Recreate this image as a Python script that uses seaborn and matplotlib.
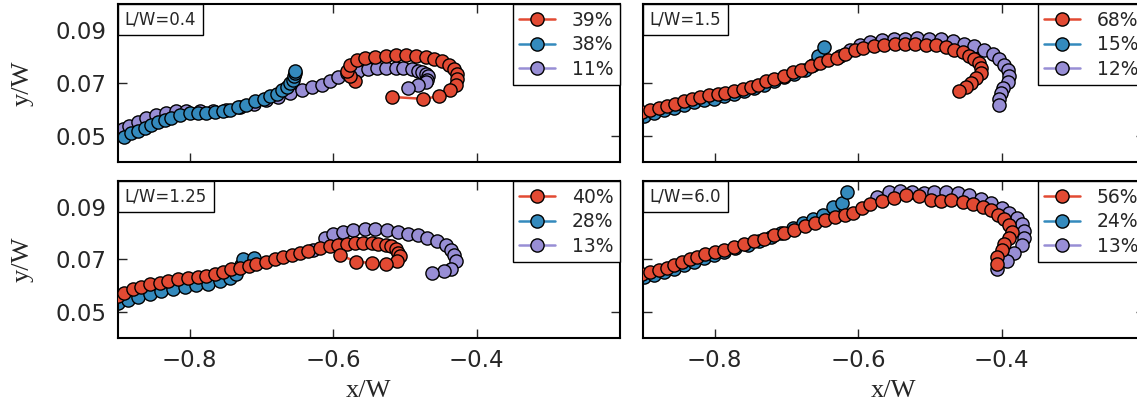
import matplotlib
matplotlib.use("Agg")
import matplotlib.pyplot as plt
import seaborn as sns
from matplotlib.offsetbox import AnchoredText

# trajectory points (x/W, y/W)

# --- L/W = 0.4 ---
lw04_red_x = [-0.569, -0.576, -0.581, -0.576, -0.567, -0.555, -0.541, -0.527, -0.513, -0.499,
              -0.485, -0.471, -0.460, -0.448, -0.439, -0.432, -0.428, -0.427, -0.429, -0.437,
              -0.453, -0.475, -0.518]
lw04_red_y = [0.0709, 0.0725, 0.0745, 0.0770, 0.0787, 0.0794, 0.0799, 0.0802, 0.0806, 0.0806,
              0.0804, 0.0799, 0.0793, 0.0783, 0.0770, 0.0753, 0.0736, 0.0715, 0.0694, 0.0672,
              0.0649, 0.0640, 0.0647]
lw04_blue_x = [-0.891, -0.882, -0.872, -0.863, -0.854, -0.844, -0.835, -0.826, -0.814, -0.800,
               -0.788, -0.777, -0.765, -0.753, -0.744, -0.732, -0.721, -0.709, -0.697, -0.688,
               -0.679, -0.672, -0.665, -0.660, -0.656, -0.654, -0.653, -0.653]
lw04_blue_y = [0.0496, 0.0509, 0.0519, 0.0530, 0.0541, 0.0551, 0.0560, 0.0568, 0.0579, 0.0585,
               0.0585, 0.0585, 0.0588, 0.0592, 0.0598, 0.0608, 0.0617, 0.0630, 0.0639, 0.0649,
               0.0659, 0.0672, 0.0685, 0.0700, 0.0713, 0.0725, 0.0738, 0.0747]
lw04_purple_x = [-0.893, -0.884, -0.872, -0.861, -0.847, -0.833, -0.819, -0.805, -0.786, -0.767,
                 -0.749, -0.730, -0.711, -0.693, -0.677, -0.660, -0.644, -0.630, -0.616, -0.604,
                 -0.593, -0.581, -0.565, -0.551, -0.539, -0.527, -0.513, -0.502, -0.490, -0.482,
                 -0.476, -0.471, -0.468, -0.469, -0.471, -0.481, -0.495]
lw04_purple_y = [0.0526, 0.0538, 0.0553, 0.0566, 0.0578, 0.0587, 0.0592, 0.0594, 0.0593, 0.0594,
                 0.0599, 0.0609, 0.0621, 0.0634, 0.0648, 0.0662, 0.0675, 0.0685, 0.0694, 0.0706,
                 0.0723, 0.0738, 0.0745, 0.0753, 0.0757, 0.0757, 0.0757, 0.0757, 0.0753, 0.0747,
                 0.0741, 0.0736, 0.0725, 0.0713, 0.0703, 0.0694, 0.0681]

# --- L/W = 1.5 ---
lw15_red_x = [-0.902, -0.890, -0.878, -0.867, -0.855, -0.843, -0.831, -0.820, -0.808, -0.796,
              -0.785, -0.773, -0.761, -0.749, -0.740, -0.728, -0.717, -0.703, -0.691, -0.679,
              -0.665, -0.653, -0.642, -0.630, -0.618, -0.604, -0.593, -0.578, -0.564, -0.548,
              -0.534, -0.520, -0.506, -0.492, -0.478, -0.466, -0.454, -0.445, -0.438, -0.431,
              -0.429, -0.429, -0.436, -0.443, -0.450, -0.459]
lw15_red_y = [0.0588, 0.0596, 0.0604, 0.0613, 0.0621, 0.0630, 0.0639, 0.0647, 0.0653, 0.0657,
              0.0662, 0.0668, 0.0677, 0.0685, 0.0694, 0.0706, 0.0717, 0.0728, 0.0741, 0.0751,
              0.0764, 0.0776, 0.0787, 0.0796, 0.0812, 0.0824, 0.0834, 0.0840, 0.0844, 0.0849,
              0.0850, 0.0850, 0.0846, 0.0843, 0.0838, 0.0827, 0.0817, 0.0804, 0.0792, 0.0776,
              0.0757, 0.0738, 0.0719, 0.0700, 0.0685, 0.0668]
lw15_blue_x = [-0.899, -0.885, -0.871, -0.857, -0.843, -0.829, -0.815, -0.801, -0.787, -0.773,
               -0.759, -0.745, -0.731, -0.717, -0.703, -0.689, -0.674, -0.663, -0.656, -0.648]
lw15_blue_y = [0.0575, 0.0585, 0.0596, 0.0606, 0.0616, 0.0626, 0.0634, 0.0641, 0.0649, 0.0658,
               0.0668, 0.0680, 0.0694, 0.0709, 0.0723, 0.0736, 0.0748, 0.0770, 0.0802, 0.0836]
lw15_purple_x = [-0.625, -0.611, -0.597, -0.583, -0.567, -0.550, -0.534, -0.518, -0.501, -0.485,
                 -0.468, -0.452, -0.438, -0.424, -0.412, -0.403, -0.396, -0.391, -0.389, -0.391,
                 -0.398, -0.401, -0.403, -0.403]
lw15_purple_y = [0.0804, 0.0827, 0.0845, 0.0857, 0.0863, 0.0866, 0.0868, 0.0872, 0.0869, 0.0866,
                 0.0859, 0.0850, 0.0840, 0.0827, 0.0812, 0.0792, 0.0770, 0.0748, 0.0725, 0.0703,
                 0.0681, 0.0662, 0.0640, 0.0617]

# --- L/W = 1.25 ---
lw125_red_x = [-0.900, -0.891, -0.879, -0.868, -0.856, -0.842, -0.830, -0.816, -0.802, -0.788,
               -0.777, -0.765, -0.753, -0.742, -0.730, -0.718, -0.707, -0.693, -0.681, -0.670,
               -0.658, -0.646, -0.635, -0.618, -0.604, -0.593, -0.581, -0.569, -0.558, -0.546,
               -0.537, -0.527, -0.520, -0.513, -0.509, -0.507, -0.511, -0.527, -0.546, -0.568,
               -0.590]
lw125_red_y = [0.0559, 0.0572, 0.0586, 0.0595, 0.0605, 0.0612, 0.0618, 0.0625, 0.0628, 0.0632,
               0.0638, 0.0645, 0.0654, 0.0662, 0.0667, 0.0674, 0.0682, 0.0691, 0.0700, 0.0708,
               0.0717, 0.0726, 0.0734, 0.0743, 0.0750, 0.0757, 0.0761, 0.0763, 0.0763, 0.0763,
               0.0761, 0.0757, 0.0750, 0.0739, 0.0726, 0.0713, 0.0695, 0.0682, 0.0687, 0.0691,
               0.0717]
lw125_blue_x = [-0.900, -0.886, -0.872, -0.856, -0.840, -0.823, -0.807, -0.791, -0.774, -0.758,
                -0.744, -0.735, -0.728, -0.726, -0.711]
lw125_blue_y = [0.0533, 0.0546, 0.0555, 0.0568, 0.0579, 0.0588, 0.0595, 0.0601, 0.0608, 0.0616,
                0.0629, 0.0645, 0.0678, 0.0700, 0.0704]
lw125_purple_x = [-0.628, -0.611, -0.600, -0.586, -0.572, -0.555, -0.541, -0.525, -0.509, -0.495,
                  -0.481, -0.469, -0.455, -0.443, -0.436, -0.431, -0.429, -0.435, -0.446, -0.462]
lw125_purple_y = [0.0737, 0.0783, 0.0796, 0.0805, 0.0812, 0.0816, 0.0818, 0.0813, 0.0805, 0.0799,
                  0.0792, 0.0783, 0.0772, 0.0757, 0.0737, 0.0717, 0.0695, 0.0664, 0.0655, 0.0647]

# --- L/W = 6.0 ---
lw60_red_x = [-0.902, -0.890, -0.878, -0.867, -0.857, -0.845, -0.834, -0.824, -0.813, -0.800,
              -0.787, -0.773, -0.759, -0.745, -0.731, -0.717, -0.703, -0.689, -0.674, -0.660,
              -0.646, -0.632, -0.618, -0.607, -0.595, -0.583, -0.567, -0.550, -0.533, -0.515,
              -0.499, -0.485, -0.471, -0.454, -0.440, -0.426, -0.414, -0.405, -0.396, -0.389,
              -0.386, -0.389, -0.396, -0.400, -0.406, -0.407]
lw60_red_y = [0.0645, 0.0651, 0.0658, 0.0668, 0.0678, 0.0691, 0.0700, 0.0711, 0.0720, 0.0730,
              0.0737, 0.0747, 0.0759, 0.0770, 0.0780, 0.0792, 0.0803, 0.0813, 0.0829, 0.0839,
              0.0851, 0.0862, 0.0871, 0.0879, 0.0895, 0.0912, 0.0925, 0.0934, 0.0945, 0.0941,
              0.0929, 0.0925, 0.0928, 0.0921, 0.0912, 0.0901, 0.0888, 0.0871, 0.0853, 0.0832,
              0.0805, 0.0783, 0.0761, 0.0737, 0.0711, 0.0682]
lw60_blue_x = [-0.899, -0.885, -0.871, -0.857, -0.843, -0.829, -0.815, -0.801, -0.787, -0.771,
               -0.754, -0.738, -0.721, -0.707, -0.691, -0.677, -0.663, -0.649, -0.635, -0.623,
               -0.616]
lw60_blue_y = [0.0634, 0.0642, 0.0651, 0.0664, 0.0678, 0.0691, 0.0704, 0.0717, 0.0730, 0.0743,
               0.0757, 0.0770, 0.0786, 0.0803, 0.0820, 0.0839, 0.0855, 0.0871, 0.0901, 0.0914,
               0.0958]
lw60_purple_x = [-0.574, -0.557, -0.541, -0.525, -0.508, -0.494, -0.478, -0.461, -0.445, -0.429,
                 -0.414, -0.400, -0.389, -0.379, -0.372, -0.368, -0.368, -0.372, -0.382, -0.393,
                 -0.407]
lw60_purple_y = [0.0937, 0.0958, 0.0963, 0.0958, 0.0954, 0.0958, 0.0958, 0.0954, 0.0945, 0.0932,
                 0.0914, 0.0897, 0.0879, 0.0858, 0.0836, 0.0809, 0.0783, 0.0757, 0.0724, 0.0695,
                 0.0664]

titles = ["L/W=0.4", "L/W=1.5", "L/W=1.25", "L/W=6.0"]
shares = [["39%", "38%", "11%"], ["68%", "15%", "12%"], ["40%", "28%", "13%"], ["56%", "24%", "13%"]]
series = [
    [(lw04_red_x, lw04_red_y), (lw04_blue_x, lw04_blue_y), (lw04_purple_x, lw04_purple_y)],
    [(lw15_red_x, lw15_red_y), (lw15_blue_x, lw15_blue_y), (lw15_purple_x, lw15_purple_y)],
    [(lw125_red_x, lw125_red_y), (lw125_blue_x, lw125_blue_y), (lw125_purple_x, lw125_purple_y)],
    [(lw60_red_x, lw60_red_y), (lw60_blue_x, lw60_blue_y), (lw60_purple_x, lw60_purple_y)],
]
colors = ["#E24A33", "#348ABD", "#988ED5"]

sns.set_style("ticks", {"xtick.direction": "in", "ytick.direction": "in"})
plt.rcParams.update({
    "font.family": ["DejaVu Sans"],
    "xtick.top": True,
    "ytick.right": True,
    "xtick.major.size": 6.5,
    "ytick.major.size": 6.5,
    "xtick.major.width": 1.0,
    "ytick.major.width": 1.0,
    "axes.linewidth": 1.5,
    "axes.edgecolor": "black",
})

fig = plt.figure(figsize=(11.37, 4.09), dpi=100)
# axes boxes in figure fraction; the right column runs a little past the edge
boxes = [
    [0.1038, 0.6039, 0.4415, 0.3863],
    [0.5655, 0.6039, 0.4415, 0.3863],
    [0.1038, 0.1736, 0.4415, 0.3839],
    [0.5655, 0.1736, 0.4415, 0.3839],
]

for i, box in enumerate(boxes):
    ax = fig.add_axes(box)
    for j, (xs, ys) in enumerate(series[i]):
        sns.lineplot(x=xs, y=ys, sort=False, estimator=None, ax=ax,
                     color=colors[j], marker="o", markersize=9.5,
                     markeredgecolor="black", markeredgewidth=1,
                     linewidth=1.8, label=shares[i][j], zorder=3 - j)
    ax.set_xlim(-0.9, -0.2)
    ax.set_ylim(0.04, 0.10)
    ax.set_xticks([-0.8, -0.6, -0.4])
    ax.set_yticks([0.05, 0.07, 0.09])
    ax.tick_params(labelsize=16.5, pad=8)
    ax.set_xlabel("")
    ax.set_ylabel("")

    leg = ax.legend(loc="upper right", numpoints=1, fontsize=13.5, borderaxespad=0,
                    fancybox=False, framealpha=1, edgecolor="black",
                    handlelength=1.9, handletextpad=0.9, labelspacing=0.3,
                    borderpad=0.35)
    leg.get_frame().set_linewidth(1.0)

    at = AnchoredText(titles[i], loc="upper left", borderpad=0, pad=0.4,
                      prop=dict(size=12), frameon=True)
    at.patch.set_edgecolor("black")
    at.patch.set_linewidth(1.0)
    ax.add_artist(at)

    if i < 2:
        ax.tick_params(labelbottom=False)
    else:
        ax.set_xlabel("x/W", fontsize=19, family="Liberation Serif", labelpad=6)
    if i % 2 == 1:
        ax.tick_params(labelleft=False)
    else:
        ax.set_ylabel("y/W", fontsize=19, family="Liberation Serif", labelpad=16)

fig.savefig("out.png", dpi=100)
